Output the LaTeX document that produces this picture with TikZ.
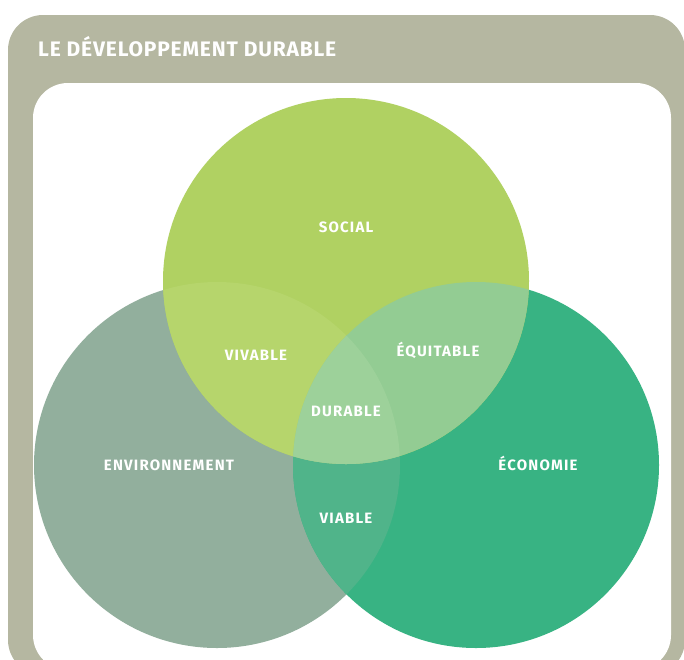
\documentclass[tikz,border=0pt]{standalone}
\usepackage{fontspec}
\setmainfont{Fira Sans}
\definecolor{cadre}{HTML}{B5B7A1}
\definecolor{soccol}{HTML}{B0D162}
\definecolor{envcol}{HTML}{92AF9D}
\definecolor{ecocol}{HTML}{38B383}
\definecolor{vivcol}{HTML}{B6D56C}
\definecolor{equcol}{HTML}{93CC93}
\definecolor{durcol}{HTML}{9DD19A}
\definecolor{viacol}{HTML}{50B48A}
\begin{document}
\begin{tikzpicture}[x=1pt, y=-1pt,
    rond/.style={circle, minimum size=366pt, inner sep=0pt},
    mot/.style={text=white, anchor=base, font=\bfseries\fontsize{15}{15}\selectfont\addfontfeature{LetterSpace=8}}]
	\useasboundingbox (0,0) rectangle (684,659);
	\clip (0,0) rectangle (684,659);
	% cadre
	\fill[cadre, rounded corners=35pt] (8,15) rectangle (685,675);
	\fill[white, rounded corners=35pt] (33,83) rectangle (671,670);
	\node[anchor=base west, inner sep=0pt, text=white, font=\bfseries\fontsize{21}{21}\selectfont\addfontfeature{LetterSpace=4}] (titre) at (38,56) {LE DÉVELOPPEMENT DURABLE};
	% cercles
	\node[rond, fill=envcol] (environ) at (217,465) {};
	\node[rond, fill=ecocol] (econ) at (476,465) {};
	\node[rond, fill=soccol] (social) at (346,281) {};
	\begin{scope}
		\clip (environ.center) circle (183);
		\fill[viacol] (econ.center) circle (183);
	\end{scope}
	\begin{scope}
		\clip (social.center) circle (183);
		\fill[vivcol] (environ.center) circle (183);
		\fill[equcol] (econ.center) circle (183);
		\clip (environ.center) circle (183);
		\fill[durcol] (econ.center) circle (183);
	\end{scope}
	% textes
	\node[mot] (tsocial) at (346,232) {SOCIAL};
	\node[mot] (tvivable) at (256,360) {VIVABLE};
	\node[mot] (tequitable) at (438,356) {ÉQUITABLE};
	\node[mot] (tdurable) at (346,416) {DURABLE};
	\node[mot] (tenviron) at (169,470) {ENVIRONNEMENT};
	\node[mot] (teconomie) at (538,470) {ÉCONOMIE};
	\node[mot] (tviable) at (346,523) {VIABLE};
\end{tikzpicture}
\end{document}
